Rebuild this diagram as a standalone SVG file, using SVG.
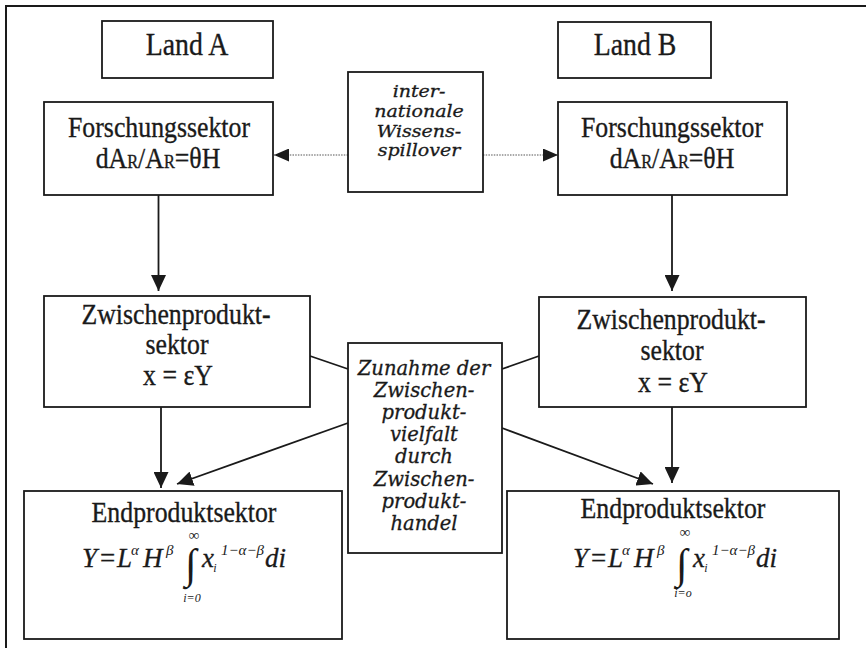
<svg xmlns="http://www.w3.org/2000/svg" width="866" height="648" viewBox="0 0 866 648">
<style>
.bg{fill:#fff}
.box{fill:#fff;stroke:#1a1a1a;stroke-width:1.8}
.r{font-family:"Liberation Serif","Times New Roman",serif;font-size:30px;fill:#1a1a1a;stroke:#1a1a1a;stroke-width:0.35;text-anchor:middle}
.lg{font-size:32px}
.it{font-family:"DejaVu Serif",serif;font-style:italic;font-size:19.5px;fill:#1a1a1a;stroke:#1a1a1a;stroke-width:0.3;text-anchor:middle}
.its{font-size:17px}
.f{font-family:"Liberation Serif","Times New Roman",serif;font-style:italic;font-size:27px;fill:#1a1a1a;stroke:#1a1a1a;stroke-width:0.3}
.fr{font-family:"Liberation Serif","Times New Roman",serif;font-size:27px;fill:#1a1a1a;stroke:#1a1a1a;stroke-width:0.3}
.sup{font-family:"Liberation Serif","Times New Roman",serif;font-style:italic;font-size:15px;fill:#1a1a1a}
.sm{font-family:"Liberation Serif","Times New Roman",serif;font-style:italic;font-size:12px;fill:#1a1a1a;text-anchor:middle}
.inf{font-family:"Liberation Serif","Times New Roman",serif;font-size:15px;fill:#1a1a1a;text-anchor:middle}
.int{font-family:"Liberation Serif","Times New Roman",serif;font-size:42px;fill:#1a1a1a}
.conn{stroke:#1a1a1a;stroke-width:1.8;fill:none}
.dot{stroke:#555;stroke-width:1.2;fill:none;stroke-dasharray:1.5 1.2}
.frame{stroke:#1a1a1a;stroke-width:2;fill:none}
</style>
<defs>
<marker id="ah" viewBox="0 0 16 15" refX="16" refY="7.5" markerWidth="16" markerHeight="15" markerUnits="userSpaceOnUse" orient="auto"><path d="M0,0 L16,7.5 L0,15 z" fill="#1a1a1a"/></marker>
<marker id="ahd" viewBox="0 0 15 13" refX="15" refY="6.5" markerWidth="15" markerHeight="13" markerUnits="userSpaceOnUse" orient="auto"><path d="M0,0 L15,6.5 L0,13 z" fill="#1a1a1a"/></marker>
</defs>
<rect class="bg" x="0" y="0" width="866" height="648"/>
<path class="frame" d="M6,648 V6 H866"/>

<g id="connectors">
<line class="dot" x1="348" y1="155" x2="274" y2="155" marker-end="url(#ahd)"/>
<line class="dot" x1="483" y1="155" x2="558" y2="155" marker-end="url(#ahd)"/>
<line class="conn" x1="158.5" y1="195" x2="158.5" y2="291" marker-end="url(#ah)"/>
<line class="conn" x1="672" y1="195" x2="672" y2="291" marker-end="url(#ah)"/>
<line class="conn" x1="161" y1="407" x2="161" y2="488" marker-end="url(#ah)"/>
<line class="conn" x1="672" y1="407" x2="672" y2="483" marker-end="url(#ah)"/>
<line class="conn" x1="310" y1="356" x2="348" y2="369"/>
<line class="conn" x1="502" y1="369" x2="539" y2="356"/>
<line class="conn" x1="348" y1="423" x2="177" y2="484" marker-end="url(#ah)"/>
<line class="conn" x1="502" y1="428" x2="653" y2="484" marker-end="url(#ah)"/>
</g>

<g id="landA">
<rect class="box" x="102" y="21" width="171" height="57"/>
<text class="r lg" transform="translate(187,55) scale(0.87,1)">Land A</text>
</g>
<g id="landB">
<rect class="box" x="558" y="22" width="153" height="56"/>
<text class="r lg" transform="translate(635,55) scale(0.87,1)">Land B</text>
</g>

<g id="forschungA">
<rect class="box" x="44" y="102" width="229" height="93"/>
<text class="r" transform="translate(159,137) scale(0.86,1)">Forschungssektor</text>
<text class="r" transform="translate(158,168) scale(0.86,1)">dA<tspan font-size="19">R</tspan>/A<tspan font-size="19">R</tspan>=θH</text>
</g>
<g id="forschungB">
<rect class="box" x="558" y="102" width="229" height="93"/>
<text class="r" transform="translate(672,137) scale(0.86,1)">Forschungssektor</text>
<text class="r" transform="translate(672,168) scale(0.86,1)">dA<tspan font-size="19">R</tspan>/A<tspan font-size="19">R</tspan>=θH</text>
</g>

<g id="spillover">
<rect class="box" x="348" y="72" width="135" height="120"/>
<text class="it its" transform="translate(419,97) scale(1.12,1)">inter-</text>
<text class="it its" transform="translate(419,117) scale(1.12,1)">nationale</text>
<text class="it its" transform="translate(419,137) scale(1.12,1)">Wissens-</text>
<text class="it its" transform="translate(419,156) scale(1.12,1)">spillover</text>
</g>

<g id="zwischenA">
<rect class="box" x="44" y="296" width="266" height="111"/>
<text class="r" transform="translate(176,324) scale(0.86,1)">Zwischenprodukt-</text>
<text class="r" transform="translate(177,354) scale(0.86,1)">sektor</text>
<text class="r" transform="translate(178,385) scale(0.86,1)">x = εY</text>
</g>
<g id="zwischenB">
<rect class="box" x="539" y="297" width="267" height="110"/>
<text class="r" transform="translate(671,329) scale(0.86,1)">Zwischenprodukt-</text>
<text class="r" transform="translate(672,360) scale(0.86,1)">sektor</text>
<text class="r" transform="translate(673,392) scale(0.86,1)">x = εY</text>
</g>

<g id="zunahme">
<rect class="box" x="348" y="343" width="154" height="210"/>
<text class="it" x="424" y="375">Zunahme der</text>
<text class="it" x="424" y="397">Zwischen-</text>
<text class="it" x="424" y="419">produkt-</text>
<text class="it" x="424" y="441">vielfalt</text>
<text class="it" x="424" y="463">durch</text>
<text class="it" x="424" y="486">Zwischen-</text>
<text class="it" x="424" y="508">produkt-</text>
<text class="it" x="424" y="530">handel</text>
</g>

<g id="endA">
<rect class="box" x="24" y="491" width="318" height="148"/>
<text class="r" transform="translate(184,522) scale(0.86,1)">Endproduktsektor</text>
<g>
<text class="f" x="82" y="567">Y</text>
<text class="fr" x="100" y="567">=</text>
<text class="f" x="117" y="567">L</text>
<text class="sup" x="131" y="555">α</text>
<text class="f" x="143" y="567">H</text>
<text class="sup" x="166" y="555">β</text>
<text class="int" x="185" y="578">∫</text>
<text class="inf" x="194" y="540">∞</text>
<text class="f" x="202" y="567">x</text>
<text class="sm" x="215" y="572">i</text>
<text class="sup" x="221" y="555">1−α−β</text>
<text class="f" x="265" y="567">di</text>
<text class="sm" x="192" y="602">i=0</text>
</g>
</g>
<g id="endB">
<rect class="box" x="507" y="491" width="332" height="148"/>
<text class="r" transform="translate(673,518) scale(0.86,1)">Endproduktsektor</text>
<g transform="translate(491,0)">
<text class="f" x="82" y="567">Y</text>
<text class="fr" x="100" y="567">=</text>
<text class="f" x="117" y="567">L</text>
<text class="sup" x="131" y="555">α</text>
<text class="f" x="143" y="567">H</text>
<text class="sup" x="166" y="555">β</text>
<text class="int" x="185" y="578">∫</text>
<text class="inf" x="194" y="537">∞</text>
<text class="f" x="202" y="567">x</text>
<text class="sm" x="215" y="572">i</text>
<text class="sup" x="221" y="555">1−α−β</text>
<text class="f" x="265" y="567">di</text>
<text class="sm" x="192" y="597">i=o</text>
</g>
</g>
</svg>
